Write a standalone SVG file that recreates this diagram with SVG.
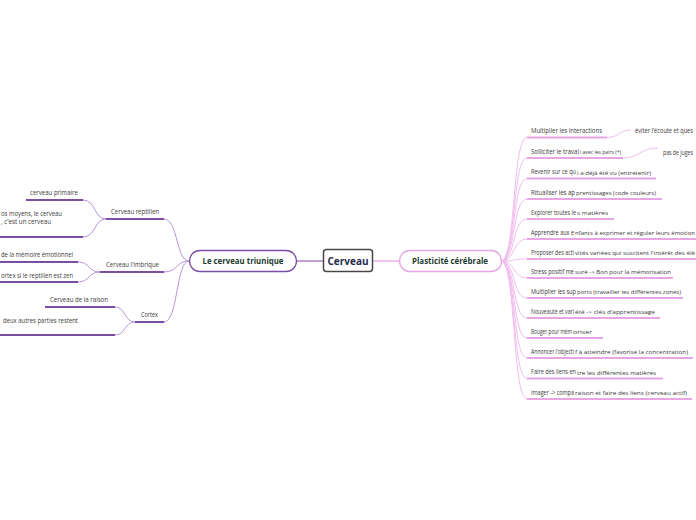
<svg xmlns="http://www.w3.org/2000/svg" width="696" height="520" viewBox="0 0 696 520">
<style>
.t{font-family:"Open Sans","Liberation Sans",sans-serif;font-size:7px;fill:#3a3a3a}
.s{font-size:6px}
.lu{stroke:#7b4ea3;stroke-width:2;fill:none}
.lc{stroke:#b896d6;stroke-width:1;fill:none}
.ru{stroke:#e7a5e4;stroke-width:2;fill:none}
.rc{stroke:#f0bdee;stroke-width:1;fill:none}
.mt{font-family:"Open Sans","Liberation Sans",sans-serif;font-weight:bold;font-size:8.5px;fill:#1d3a30;text-anchor:middle}
</style>
<rect width="696" height="520" fill="#fff"/>
<g id="connectors">
<path class="lc" d="M297,261 L323,261" style="stroke:#9a6fc0;stroke-width:1.3"/>
<path class="rc" d="M372,261 L399,261" style="stroke:#e8a8e6;stroke-width:1.3"/>
<path class="lc" d="M189,261 C176,261 178,219 164,219"/>
<path class="lc" d="M189,261 C176,261 178,272 164,272"/>
<path class="lc" d="M189,261 C176,261 178,322 164,322"/>
<path class="lc" d="M106,219 C94,219 96,200 83,200"/>
<path class="lc" d="M106,219 C94,219 96,237 83,237"/>
<path class="lc" d="M100,272 C88,272 90,262 78,262"/>
<path class="lc" d="M100,272 C88,272 90,282 78,282"/>
<path class="lc" d="M135,322 C124,322 126,307 115,307"/>
<path class="lc" d="M135,322 C124,322 126,335 115,335"/>
<path class="rc" d="M501,261 C516,261 512,137.5 527,137.5"/>
<path class="rc" d="M501,261 C516,261 512,158 527,158"/>
<path class="rc" d="M501,261 C516,261 512,178.5 527,178.5"/>
<path class="rc" d="M501,261 C516,261 512,199 527,199"/>
<path class="rc" d="M501,261 C516,261 512,219 527,219"/>
<path class="rc" d="M501,261 C516,261 512,239 527,239"/>
<path class="rc" d="M501,261 C516,261 512,259 527,259"/>
<path class="rc" d="M501,261 C516,261 512,278 527,278"/>
<path class="rc" d="M501,261 C516,261 512,298 527,298"/>
<path class="rc" d="M501,261 C516,261 512,318 527,318"/>
<path class="rc" d="M501,261 C516,261 512,338 527,338"/>
<path class="rc" d="M501,261 C516,261 512,358 527,358"/>
<path class="rc" d="M501,261 C516,261 512,378.5 527,378.5"/>
<path class="rc" d="M501,261 C516,261 512,399 527,399"/>
<path class="rc" d="M607,137.5 C619,137.5 619,130 631,130"/>
<path class="rc" d="M623,158 C640,158 640,148 658,148"/>
</g>
<g id="cerveau">
<rect x="323.5" y="249.5" width="49" height="22" rx="3" fill="#fff" stroke="#474747" stroke-width="1.5"/>
<text x="348" y="265" style="font-family:'Open Sans','Liberation Sans',sans-serif;font-weight:bold;font-size:10.5px;fill:#1f2c4f" text-anchor="middle" textLength="41" lengthAdjust="spacingAndGlyphs">Cerveau</text>
</g>
<g id="triunique">
<rect x="189.5" y="250.5" width="107" height="21" rx="10.5" fill="#fff" stroke="#7b4ea3" stroke-width="1.3"/>
<text class="mt" x="243" y="264" textLength="81" lengthAdjust="spacingAndGlyphs">Le cerveau triunique</text>
</g>
<g id="plasticite">
<rect x="399.5" y="250.5" width="102" height="21" rx="10.5" fill="#fff" stroke="#e7a5e4" stroke-width="1.3"/>
<text class="mt" x="450" y="264" textLength="76" lengthAdjust="spacingAndGlyphs">Plasticité cérébrale</text>
</g>
<g id="reptilien">
<path class="lu" d="M106,219 H164"/>
<text class="t" x="111" y="213.5" textLength="48" lengthAdjust="spacingAndGlyphs">Cerveau reptilien</text>
</g>
<g id="primaire">
<path class="lu" d="M26,200 H83"/>
<text class="t" x="30" y="195" textLength="48" lengthAdjust="spacingAndGlyphs">cerveau primaire</text>
</g>
<g id="moyens">
<path class="lu" d="M0,237 H83"/>
<text class="t" x="62" y="215.5" text-anchor="end" textLength="61" lengthAdjust="spacingAndGlyphs">os moyens, le cerveau</text>
<text class="t" x="51" y="223.5" text-anchor="end" textLength="50" lengthAdjust="spacingAndGlyphs">, c'est un cerveau</text>
</g>
<g id="limbique">
<path class="lu" d="M100,272 H164"/>
<text class="t" x="106" y="267" textLength="53" lengthAdjust="spacingAndGlyphs">Cerveau l'imbrique</text>
</g>
<g id="memoire">
<path class="lu" d="M0,262 H78"/>
<text class="t" x="73" y="256.5" text-anchor="end" textLength="72" lengthAdjust="spacingAndGlyphs">de la mémoire émotionnel</text>
</g>
<g id="zen">
<path class="lu" d="M0,282 H78"/>
<text class="t" x="73" y="277.5" text-anchor="end" textLength="72" lengthAdjust="spacingAndGlyphs">ortex si le reptilien est zen</text>
</g>
<g id="cortex">
<path class="lu" d="M135,322 H164"/>
<text class="t" x="141" y="316.5" textLength="17" lengthAdjust="spacingAndGlyphs">Cortex</text>
</g>
<g id="raison">
<path class="lu" d="M45,307 H115"/>
<text class="t" x="50" y="301.5" textLength="58" lengthAdjust="spacingAndGlyphs">Cerveau de la raison</text>
</g>
<g id="restent">
<path class="lu" d="M0,335 H115"/>
<text class="t" x="78" y="322.5" text-anchor="end" textLength="75" lengthAdjust="spacingAndGlyphs">deux autres parties restent</text>
</g>
<g id="r1">
<path class="ru" d="M527,137.5 H607"/>
<text class="t" x="531" y="133" textLength="71" lengthAdjust="spacingAndGlyphs">Multiplier les interactions</text>
</g>
<g id="r1a">
<text class="t" x="635" y="133" textLength="58" lengthAdjust="spacingAndGlyphs">éviter l'écoute et ques</text>
</g>
<g id="r2">
<path class="ru" d="M527,158 H623"/>
<text class="t" y="153.5"><tspan x="531" textLength="48" lengthAdjust="spacingAndGlyphs">Solliciter le travai</tspan><tspan class="s" x="580" dy="0.8" textLength="41" lengthAdjust="spacingAndGlyphs">l avec les pairs (+)</tspan></text>
</g>
<g id="r2a">
<text class="t" x="663" y="155" textLength="30" lengthAdjust="spacingAndGlyphs">pas de juges</text>
</g>
<g id="r3">
<path class="ru" d="M527,178.5 H656"/>
<text class="t" y="174"><tspan x="531" textLength="45" lengthAdjust="spacingAndGlyphs">Revenir sur ce qu</tspan><tspan class="s" x="577" dy="0.8" textLength="74" lengthAdjust="spacingAndGlyphs">i a déjà été vu (entretenir)</tspan></text>
</g>
<g id="r4">
<path class="ru" d="M527,199 H662"/>
<text class="t" y="194.5"><tspan x="531" textLength="44" lengthAdjust="spacingAndGlyphs">Ritualiser les ap</tspan><tspan class="s" x="576" dy="0.8" textLength="80" lengthAdjust="spacingAndGlyphs">prentissages  (code couleurs)</tspan></text>
</g>
<g id="r5">
<path class="ru" d="M527,219 H614"/>
<text class="t" y="214.5"><tspan x="531" textLength="45" lengthAdjust="spacingAndGlyphs">Explorer toutes le</tspan><tspan class="s" x="577" dy="0.8" textLength="31" lengthAdjust="spacingAndGlyphs">s matières</tspan></text>
</g>
<g id="r6">
<path class="ru" d="M527,239 H696"/>
<text class="t" y="234.5"><tspan x="531" textLength="43" lengthAdjust="spacingAndGlyphs">Apprendre aux e</tspan><tspan class="s" x="575" dy="0.8" textLength="120" lengthAdjust="spacingAndGlyphs">nfants à exprimer et réguler leurs émotion</tspan></text>
</g>
<g id="r7">
<path class="ru" d="M527,259 H696"/>
<text class="t" y="254.5"><tspan x="531" textLength="43" lengthAdjust="spacingAndGlyphs">Proposer des acti</tspan><tspan class="s" x="575" dy="0.8" textLength="120" lengthAdjust="spacingAndGlyphs">vités variées qui suscitent l'intérêt des élè</tspan></text>
</g>
<g id="r8">
<path class="ru" d="M527,278 H673"/>
<text class="t" y="273.5"><tspan x="531" textLength="43" lengthAdjust="spacingAndGlyphs">Stress positif me</tspan><tspan class="s" x="575" dy="0.8" textLength="96" lengthAdjust="spacingAndGlyphs">suré -&gt; Bon pour la mémorisation</tspan></text>
</g>
<g id="r9">
<path class="ru" d="M527,298 H683"/>
<text class="t" y="293.5"><tspan x="531" textLength="45" lengthAdjust="spacingAndGlyphs">Multiplier les sup</tspan><tspan class="s" x="577" dy="0.8" textLength="104" lengthAdjust="spacingAndGlyphs">ports (travailler les différentes zones)</tspan></text>
</g>
<g id="r10">
<path class="ru" d="M527,318 H660"/>
<text class="t" y="313.5"><tspan x="531" textLength="43" lengthAdjust="spacingAndGlyphs">Nouveauté et vari</tspan><tspan class="s" x="575" dy="0.8" textLength="80" lengthAdjust="spacingAndGlyphs">été -&gt; clés d'apprentissage</tspan></text>
</g>
<g id="r11">
<path class="ru" d="M527,338 H603"/>
<text class="t" y="333.5"><tspan x="531" textLength="41" lengthAdjust="spacingAndGlyphs">Bouger pour mém</tspan><tspan class="s" x="573" dy="0.8" textLength="19" lengthAdjust="spacingAndGlyphs">oriser</tspan></text>
</g>
<g id="r12">
<path class="ru" d="M527,358 H693"/>
<text class="t" y="353.5"><tspan x="531" textLength="43" lengthAdjust="spacingAndGlyphs">Annoncer l'objecti</tspan><tspan class="s" x="575" dy="0.8" textLength="113" lengthAdjust="spacingAndGlyphs">f à atteindre (favorise la concentration)</tspan></text>
</g>
<g id="r13">
<path class="ru" d="M527,378.5 H663"/>
<text class="t" y="374"><tspan x="531" textLength="45" lengthAdjust="spacingAndGlyphs">Faire des liens en</tspan><tspan class="s" x="577" dy="0.8" textLength="79" lengthAdjust="spacingAndGlyphs">tre les différentes matières</tspan></text>
</g>
<g id="r14">
<path class="ru" d="M527,399 H692"/>
<text class="t" y="394.5"><tspan x="531" textLength="43" lengthAdjust="spacingAndGlyphs">Imager -&gt; compa</tspan><tspan class="s" x="575" dy="0.8" textLength="112" lengthAdjust="spacingAndGlyphs">raison et faire des liens (cerveau actif)</tspan></text>
</g>
</svg>
